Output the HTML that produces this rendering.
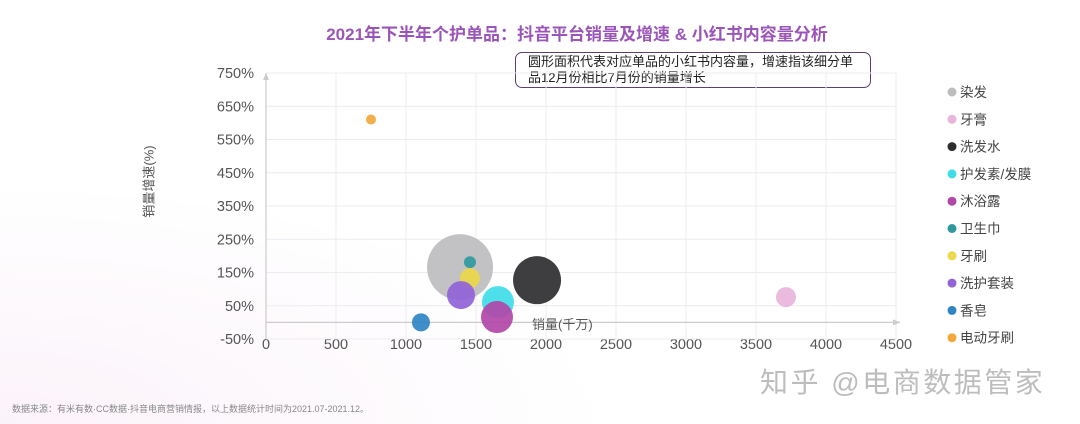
<!DOCTYPE html>
<html><head><meta charset="utf-8"><style>
body{margin:0;width:1080px;height:424px;overflow:hidden;background:#fff;font-family:"Liberation Sans","Noto Sans CJK SC",sans-serif;}
#wrap{position:relative;width:1080px;height:424px;background:radial-gradient(ellipse at 0% 100%,#fbf3fa 0%,#fff 40%);}
.t{position:absolute;white-space:nowrap}
</style></head><body>
<div id="wrap">
<div class="t" style="left:0;width:1154px;text-align:center;top:20px;font-size:17px;font-weight:bold;color:#9b55b8;">2021年下半年个护单品：抖音平台销量及增速 &amp; 小红书内容量分析</div>
<div class="t" style="left:515px;top:52px;width:336px;height:33px;border:1.5px solid #5a3f72;border-radius:7px;padding:1px 6px 0 12px;font-size:13px;line-height:15.5px;color:#222;white-space:normal;">圆形面积代表对应单品的小红书内容量，增速指该细分单品12月份相比7月份的销量增长</div>
<div class="t" style="left:108px;top:172px;font-size:13px;color:#555;transform:rotate(-90deg);transform-origin:center;width:80px;text-align:center;">销量增速(%)</div>
<svg id="chart" width="1080" height="424" style="position:absolute;left:0;top:0"></svg>
<div class="t" style="left:760px;top:361px;font-size:28px;color:#bdbdbd;letter-spacing:2.5px;">知乎 @电商数据管家</div>
<div class="t" style="left:12px;top:402px;font-size:9px;color:#888;">数据来源：有米有数·CC数据·抖音电商营销情报，以上数据统计时间为2021.07-2021.12。</div>
</div>
<script>
const categories=["染发","牙膏","洗发水","护发素/发膜","沐浴露","卫生巾","牙刷","洗护套装","香皂","电动牙刷"];
const salesValues=[1386,3714,1936,1657,1650,1457,1457,1393,1107,750];
const growthValues=[166,76,127,61,16,181,133,82,0,610];
const contentSizes=[1089,100,576,256,256,36,100,196,81,25];
const colors=["#bdbcbe","#e8b4dc","#2e2e30","#3fdde8","#b247a8","#2e9aa0","#ecd84a","#9363d8","#2f84c4","#f2a83a"];
const xTicks=[0,500,1000,1500,2000,2500,3000,3500,4000,4500];
const yTicks=[-50,50,150,250,350,450,550,650,750];
const NS="http://www.w3.org/2000/svg";
const svg=document.getElementById('chart');
const X0=266,X1=896,Y0=339,Y1=73;
const xs=v=>X0+(v-0)/(4500)*(X1-X0);
const ys=v=>Y0-(v+50)/800*(Y0-Y1);
const rs=s=>Math.sqrt(s);
function mk(t,a){const e=document.createElementNS(NS,t);for(const k in a)e.setAttribute(k,a[k]);svg.appendChild(e);return e;}
xTicks.forEach(v=>{
 if(v>0){const l=mk('line',{x1:xs(v),x2:xs(v),y1:Y1,y2:Y0,stroke:'#ececf0','stroke-width':1});
 
 }
 const t=mk('text',{x:xs(v),y:349,'text-anchor':'middle','font-size':14.5,fill:'#555','font-family':'Liberation Sans, sans-serif'});t.textContent=v;
 
 
});
yTicks.forEach(v=>{
 const l=mk('line',{x1:X0,x2:X1,y1:ys(v),y2:ys(v),stroke:'#ececf0','stroke-width':1});
 
 
 const t=mk('text',{x:254,y:ys(v)+5,'text-anchor':'end','font-size':14.5,fill:'#555','font-family':'Liberation Sans, sans-serif'});t.textContent=v+'%';
 
 
});
const ya=mk('line',{x1:X0,x2:X0,y1:Y0,y2:Y1,stroke:'#ccc','stroke-width':1.2});


const xa=mk('line',{x1:X0,x2:X1+4,y1:ys(0),y2:ys(0),stroke:'#ccc','stroke-width':1.2});


const ar1=mk('path',{d:`M${X0-3},${Y1+7}L${X0},${Y1}L${X0+3},${Y1+7}Z`,fill:'#ccc'});


const ar2=mk('path',{d:`M${X1-3},${ys(0)-3}L${X1+4},${ys(0)}L${X1-3},${ys(0)+3}Z`,fill:'#ccc'});


const xt=mk('text',{x:532,y:329,'font-size':13,fill:'#555'});xt.textContent='销量(千万)';


categories.forEach((c,i)=>{
 const b=mk('circle',{cx:xs(salesValues[i]),cy:ys(growthValues[i]),r:rs(contentSizes[i]),fill:colors[i],'fill-opacity':0.92});
 
 
 const ly=92+i*27.3;
 const d=mk('circle',{cx:952,cy:ly,r:4.5,fill:colors[i]});
 
 
 const t=mk('text',{x:960,y:ly+5,'font-size':13.5,fill:'#444'});t.textContent=c;
 
 
});
</script>
</body></html>
